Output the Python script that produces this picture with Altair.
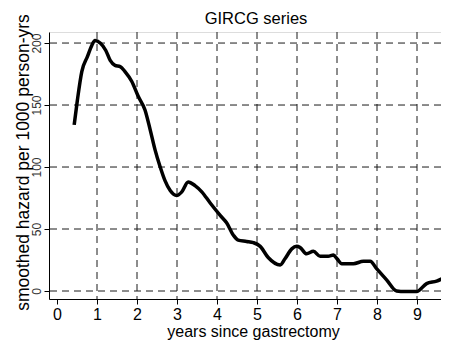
import altair as alt
import pandas as pd

years = [0.43, 0.51, 0.62, 0.76, 0.87, 0.95, 1.08, 1.22, 1.33, 1.45, 1.58, 1.70, 1.87, 2.03,
         2.20, 2.33, 2.45, 2.58, 2.70, 2.83, 2.99, 3.12, 3.28, 3.45, 3.62, 3.83, 4.08, 4.24,
         4.41, 4.53, 4.74, 4.91, 5.08, 5.28, 5.58, 5.70, 5.87, 5.99, 6.08, 6.24, 6.41, 6.58,
         6.78, 6.91, 7.00, 7.12, 7.41, 7.66, 7.83, 7.99, 8.24, 8.49, 8.70, 8.99, 9.24, 9.49, 9.70]
hazard = [134, 154, 177, 189, 198, 202, 200, 194, 186, 182, 181, 177, 169, 157,
          146, 130, 114, 100, 89, 81, 77, 80, 88, 85, 80, 71, 61, 55,
          45, 41, 40, 39, 36, 27, 21, 26, 34, 36, 35, 30, 32, 28,
          28, 29, 26, 22, 22, 24, 24, 18, 9, 0, -0.5, -0.5, 6, 8, 11]

x_ticks = [0, 1, 2, 3, 4, 5, 6, 7, 8, 9]
x_grid = [1, 2, 3, 4, 5, 6, 7, 8, 9]
y_ticks = [0, 50, 100, 150, 200]

FONT = "Liberation Sans"

df = pd.DataFrame({"years": years, "hazard": hazard})
xg = pd.DataFrame({"x": x_grid})
yg = pd.DataFrame({"y": y_ticks})

xscale = alt.Scale(domain=[-0.2, 9.6], nice=False, zero=False)
yscale = alt.Scale(domain=[-6.45, 208.9], nice=False, zero=False)

xaxis = alt.Axis(values=x_ticks, grid=False, domainColor="black", tickColor="black",
                 tickSize=5, labelFontSize=16, labelColor="black", labelFont=FONT,
                 labelPadding=2, title="years since gastrectomy", titleFont=FONT,
                 titleFontSize=16, titleFontWeight="normal", titleColor="black",
                 titleX=204, titleY=37, titleBaseline="alphabetic", titleAlign="center",
                 labelFlush=False, labelOverlap=False)
yaxis = alt.Axis(values=y_ticks, grid=False, domainColor="black", tickColor="black",
                 tickSize=5, labelFontSize=12, labelColor="#333333", labelFont=FONT,
                 labelAngle=-90, labelAlign="center", labelBaseline="alphabetic",
                 labelPadding=4, title="smoothed hazard per 1000 person-yrs",
                 titleFont=FONT, titleFontSize=17.5, titleFontWeight="normal",
                 titleColor="black", titleX=-21, titleY=130, titleAngle=-90,
                 titleAlign="center", titleBaseline="alphabetic",
                 labelFlush=False, labelOverlap=False)

line = alt.Chart(df).mark_line(color="black", strokeWidth=3.5, interpolate="monotone",
                               clip=True).encode(
    x=alt.X("years:Q", scale=xscale, axis=xaxis),
    y=alt.Y("hazard:Q", scale=yscale, axis=yaxis))
vgrid = alt.Chart(xg).mark_rule(color="#1a1a1a", strokeWidth=1, strokeDash=[7, 5]).encode(
    x=alt.X("x:Q", scale=xscale))
hgrid = alt.Chart(yg).mark_rule(color="#1a1a1a", strokeWidth=1, strokeDash=[7, 5]).encode(
    y=alt.Y("y:Q", scale=yscale))

chart = alt.layer(vgrid, hgrid, line).properties(
    width=392, height=267,
    autosize=alt.AutoSizeParams(type="none"),
    padding={"left": 41, "top": 24, "right": 0, "bottom": 42},
    title=alt.TitleParams("GIRCG series", font=FONT, fontSize=16.5, fontWeight="normal",
                          color="black", anchor="middle", dx=11, dy=15, offset=-12,
                          baseline="alphabetic", frame="group"),
).configure_view(strokeWidth=0).configure(background="white")

chart.save("out.html", embed_options={"renderer": "svg", "actions": False})
